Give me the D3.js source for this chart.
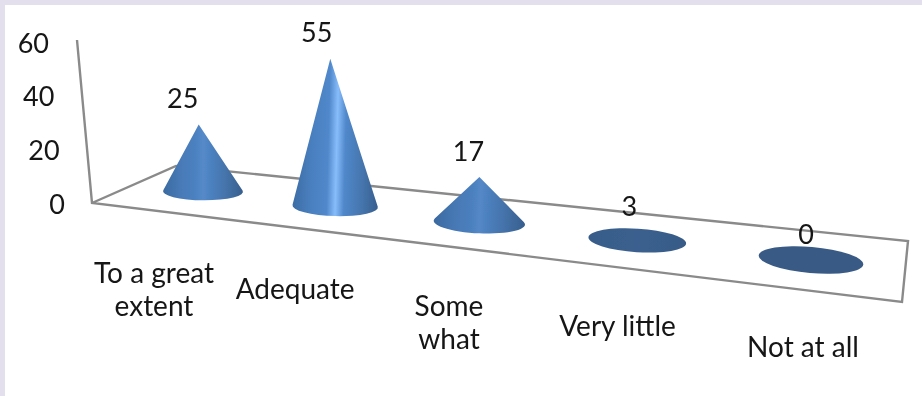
<!DOCTYPE html>
<html>
<head>
<meta charset="utf-8">
<script src="https://cdn.jsdelivr.net/npm/d3@7"></script>
<style>
html,body{margin:0;padding:0;background:#fff;overflow:hidden}
text{font-family:Lato,"Open Sans",sans-serif;fill:#141414}
</style>
</head>
<body>
<svg id="chart" width="922" height="396"></svg>
<script>
const categories = [["To a great","extent"],["Adequate"],["Some","what"],["Very little"],["Not at all"]];
const values = [25,55,17,3,0];
const valueTicks = [0,20,40,60];

const svg = d3.select("#chart");
const defs = svg.append("defs");
defs.append("filter").attr("id","soft").append("feGaussianBlur").attr("stdDeviation",0.5);

// page frame
svg.append("rect").attr("width",922).attr("height",396).attr("fill","#fff");
svg.append("rect").attr("width",922).attr("height",5).attr("fill","#e4dfec");
svg.append("rect").attr("width",5).attr("height",396).attr("fill","#e4dfec");

// depth along the category axis: perspective foreshortening
const slot = d3.scalePoint().domain(d3.range(categories.length)).range([0,1]);
const depth = t => t/(t+1.2*(1-t));
const cx = d3.scaleLinear().domain([0,1]).range([203,811]);
const cy = d3.scaleLinear().domain([203,811]).range([191.5,260]);
const rx = d3.scaleLinear().domain([0,1]).range([40,52.5]);
const ry = d3.scaleLinear().domain([0,1]).range([8.8,13]);
const tilt = d3.scaleLinear().domain([0,1]).range([0.5,5]);
const height = d3.scaleLinear().domain([0,60]).range([0,161]);
const lean = d3.scaleLinear().domain([92,905]).range([-0.09,0.10]);
const labelDx = d3.scaleLinear().domain([0,1]).range([-49,-8]);
const valueDx = d3.scaleLinear().domain([0,1]).range([-16,-5]);
const catY = d3.scaleLinear().domain([157,804]).range([275,349]);
// shading strength grows with cone height, from flat disc to full highlight
const shade = d3.scaleLinear().domain([0,3,17,55]).range([0,0.12,0.8,1]).clamp(true);
const flat = "#375a85";
const ramp = (color,amount) => d3.interpolateRgb(flat,color)(amount);

// value axis labels follow the receding wall
const tickY = d3.scaleLinear().domain([0,60]).range([204,43]);
const tickX = d3.scaleLinear().domain([0,60]).range([65,49]);

const g = svg.append("g").attr("filter","url(#soft)");

// floor and wall edges
const line = d3.line();
g.append("path")
  .attr("d", line([[77,40],[92,203],[902,302],[908,241],[176,166],[92,203]]))
  .attr("fill","none").attr("stroke","#8a8a8a").attr("stroke-width",2.4).attr("stroke-linejoin","miter");

// cones
const marks = values.map((v,i)=>{
  const p = depth(slot(i));
  const x = cx(p), y = cy(x);
  return {v,i,p,x,y,rx:rx(p),ry:ry(p),a:tilt(p),h:height(v)};
});

marks.forEach(m=>{
  const s = shade(m.v);
  const peak = m.v>40 ? "#88bdfb" : "#5b93d6";
  const grad = defs.append("linearGradient").attr("id","cone"+m.i).attr("x1",0).attr("x2",1).attr("y1",0).attr("y2",0);
  [[0,"#3c6da5"],[0.22,"#4a80c0"],[0.4,"#5088cb"],[0.5,peak],[0.6,"#5088cb"],[0.8,"#4676ae"],[1,"#375f8f"]].forEach(st=>
    grad.append("stop").attr("offset",st[0]).attr("stop-color",ramp(st[1],s)));
});

const cone = g.selectAll("g.cone").data(marks).join("g").attr("class","cone")
  .attr("transform",d=>`translate(${d.x},${d.y}) rotate(${d.a})`);

cone.append("path")
  .attr("fill",d=>`url(#cone${d.i})`)
  .attr("d",d=>{
    const r = d.a*Math.PI/180;
    const ax = d.h*lean(d.x), ay = -d.h;
    const lx = ax*Math.cos(r)+ay*Math.sin(r);
    const ly = -ax*Math.sin(r)+ay*Math.cos(r);
    const u = lx/d.rx, v = ly/d.ry, dist = Math.hypot(u,v);
    if(dist<=1){
      return `M${-d.rx},0A${d.rx},${d.ry} 0 1 0 ${d.rx},0A${d.rx},${d.ry} 0 1 0 ${-d.rx},0Z`;
    }
    const base = Math.atan2(v,u), off = Math.acos(1/dist);
    const a1 = base-off, a2 = base+off;
    const p1 = [d.rx*Math.cos(a1),d.ry*Math.sin(a1)];
    const p2 = [d.rx*Math.cos(a2),d.ry*Math.sin(a2)];
    return `M${lx},${ly}L${p1[0]},${p1[1]}A${d.rx},${d.ry} 0 1 0 ${p2[0]},${p2[1]}Z`;
  });

// value labels
const tg = svg.append("g").attr("filter","url(#soft)");
tg.selectAll("text.val").data(marks).join("text").attr("class","val")
  .attr("x",d=>d.x+d.h*lean(d.x)+valueDx(d.p))
  .attr("y",d=>d.y-d.h-27)
  .attr("text-anchor","middle").attr("dominant-baseline","central")
  .attr("font-size",27).text(d=>d.v);

// value axis labels
tg.selectAll("text.tick").data(valueTicks).join("text").attr("class","tick")
  .attr("x",d=>tickX(d)).attr("y",d=>tickY(d)-1)
  .attr("text-anchor","end").attr("dominant-baseline","central")
  .attr("font-size",27).text(d=>d);

// category labels
const cat = tg.selectAll("text.cat").data(marks).join("text").attr("class","cat")
  .attr("text-anchor","middle").attr("font-size",28);
cat.each(function(d){
  const lx = d.x+labelDx(d.p);
  d3.select(this).selectAll("tspan").data(categories[d.i]).join("tspan")
    .attr("x",lx)
    .attr("y",(s,j)=>catY(lx)+8+j*33)
    .text(s=>s);
});
</script>
</body>
</html>
